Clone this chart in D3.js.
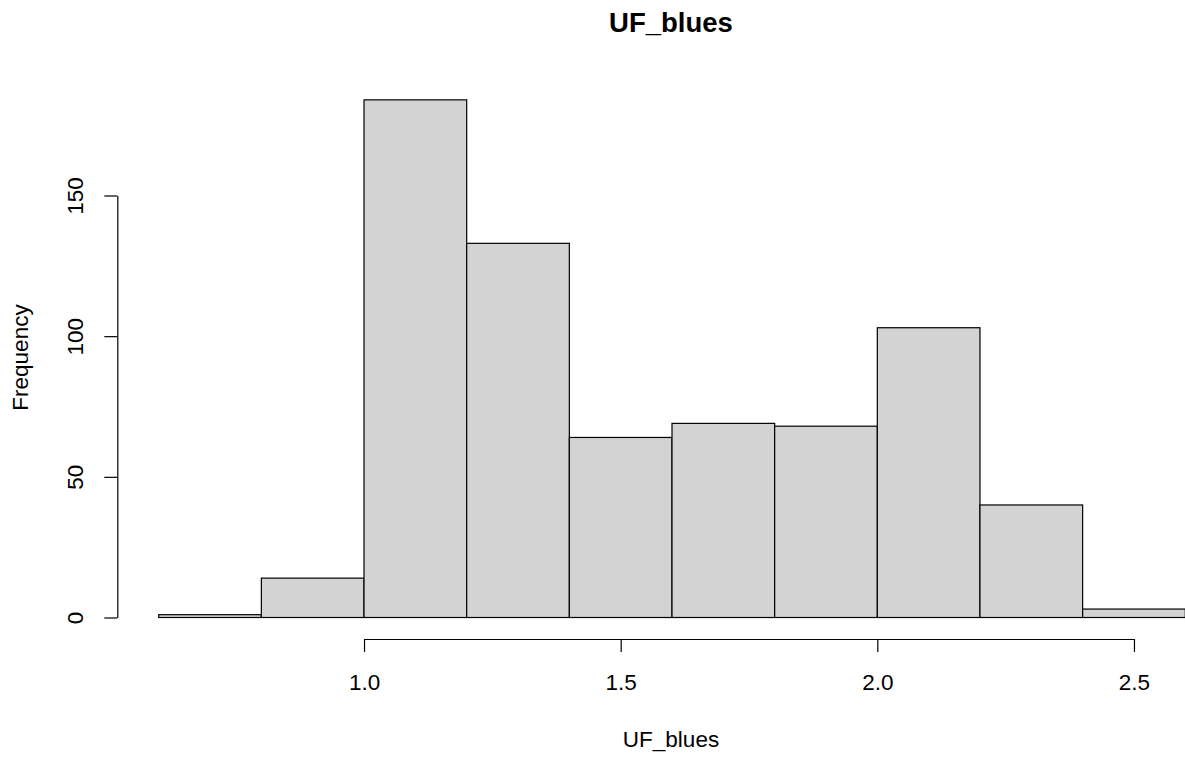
<!DOCTYPE html>
<html>
<head>
<meta charset="utf-8">
<script src="https://cdn.jsdelivr.net/npm/d3@7"></script>
<style>
  html, body { margin: 0; padding: 0; background: #fff; }
  svg { display: block; }
  text { font-family: "Liberation Sans", Arial, sans-serif; fill: #000; }
</style>
</head>
<body>
<svg id="chart" width="1185" height="760"></svg>
<script>
// Histogram bins of UF_blues (width 0.2) and their counts
const binStarts = [0.6, 0.8, 1.0, 1.2, 1.4, 1.6, 1.8, 2.0, 2.2, 2.4];
const binWidth = 0.2;
const counts = [1, 14, 184, 133, 64, 69, 68, 103, 40, 3];
const xTicks = [1.0, 1.5, 2.0, 2.5];
const yTicks = [0, 50, 100, 150];
const titleText = "UF_blues";
const xLabel = "UF_blues";
const yLabel = "Frequency";

const svg = d3.select("#chart");

const x = d3.scaleLinear().domain([0.6, 2.6]).range([158.7, 1185.3]);
const y = d3.scaleLinear().domain([0, 150]).range([617.5, 195.5]);

// bars
svg.append("g")
  .selectAll("rect")
  .data(binStarts.map((s, i) => ({ s, c: counts[i] })))
  .join("rect")
  .attr("x", d => x(d.s))
  .attr("y", d => y(d.c))
  .attr("width", d => x(d.s + binWidth) - x(d.s))
  .attr("height", d => y(0) - y(d.c))
  .attr("fill", "#d3d3d3")
  .attr("stroke", "#000")
  .attr("stroke-width", 1.2);

// x axis spans only the labelled ticks
const xAxisScale = x.copy().domain([1.0, 2.5]).range([x(1.0), x(2.5)]);
const gx = svg.append("g")
  .attr("transform", "translate(0,639)")
  .call(d3.axisBottom(xAxisScale).tickValues(xTicks).tickFormat(d3.format(".1f"))
    .tickSize(13).tickSizeOuter(0).tickPadding(0));
gx.select(".domain").attr("stroke", "#000").attr("stroke-width", 1.2);
gx.selectAll(".tick line").attr("stroke", "#000").attr("stroke-width", 1.2);
gx.selectAll(".tick text")
  .attr("y", 51).attr("dy", null)
  .style("font-size", "22.5px")
  .style("font-family", "Liberation Sans, Arial, sans-serif")
  .attr("fill", "#000");

// y axis
const gy = svg.append("g")
  .attr("transform", "translate(117.3,0)")
  .call(d3.axisLeft(y).tickValues(yTicks).tickSize(13).tickSizeOuter(0).tickPadding(0));
gy.select(".domain").attr("stroke", "#000").attr("stroke-width", 1.2);
gy.selectAll(".tick line").attr("stroke", "#000").attr("stroke-width", 1.2);
gy.selectAll(".tick text")
  .attr("x", null).attr("dy", null)
  .attr("text-anchor", "middle")
  .attr("transform", "translate(-34,0) rotate(-90)")
  .style("font-size", "22.5px")
  .style("font-family", "Liberation Sans, Arial, sans-serif")
  .attr("fill", "#000");

// title and axis labels
svg.append("text")
  .attr("x", 671).attr("y", 32)
  .attr("text-anchor", "middle")
  .style("font-size", "27.5px").style("font-weight", "bold")
  .text(titleText);

svg.append("text")
  .attr("x", 671).attr("y", 747)
  .attr("text-anchor", "middle")
  .style("font-size", "22.5px")
  .text(xLabel);

svg.append("text")
  .attr("transform", "translate(28,357.5) rotate(-90)")
  .attr("text-anchor", "middle")
  .style("font-size", "22.5px")
  .text(yLabel);
</script>
</body>
</html>
